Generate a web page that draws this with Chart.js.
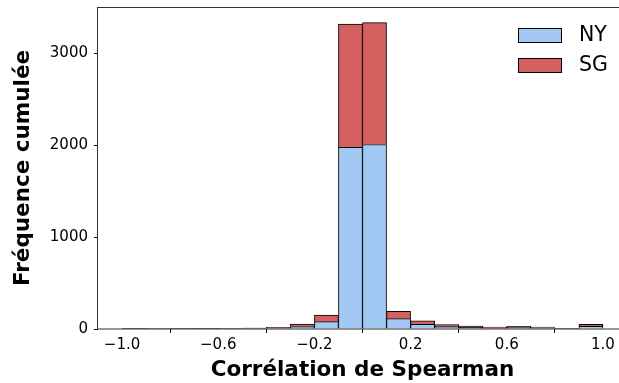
<!DOCTYPE html>
<html>
<head>
<meta charset="utf-8">
<script src="https://cdn.jsdelivr.net/npm/chart.js@4/dist/chart.umd.min.js"></script>
<style>
  html, body { margin: 0; padding: 0; background: #fff; overflow: hidden; }
  #wrap { width: 631px; height: 383px; }
</style>
</head>
<body>
<div id="wrap"><canvas id="hist" width="631" height="383"></canvas></div>
<script>
// histogram bins of width 0.1 on [-1, 1], given by their centres
const binCenters = [-0.95, -0.85, -0.75, -0.65, -0.55, -0.45, -0.35, -0.25, -0.15, -0.05,
                    0.05, 0.15, 0.25, 0.35, 0.45, 0.55, 0.65, 0.75, 0.85, 0.95];
const countsNY = [4, 2, 3, 4, 5, 8, 12, 26, 80, 1975, 2005, 112, 52, 25, 17, 12, 18, 14, 5, 30];
const countsSG = [2, 1, 1, 2, 2, 3, 6, 28, 72, 1340, 1325, 80, 36, 24, 14, 10, 10, 8, 3, 20];
const xTicks = [-1.0, -0.6, -0.2, 0.2, 0.6, 1.0];
const yTicks = [0, 1000, 2000, 3000];

const FONT = "'DejaVu Sans', sans-serif";

function pts(vals) {
  return binCenters.map((c, i) => ({ x: c, y: vals[i] }));
}

// matplotlib-like frame around the axes, on top of the bars
const frame = {
  id: 'frame',
  afterDatasetsDraw(chart) {
    const { ctx, chartArea: a } = chart;
    ctx.save();
    ctx.strokeStyle = '#333';
    ctx.lineWidth = 1;
    ctx.strokeRect(Math.round(a.left) - 0.5, Math.round(a.top) + 0.5,
                   Math.round(a.right - a.left) + 1, Math.round(a.bottom - a.top) - 0.5);
    ctx.restore();
  }
};

// legend in the upper right corner
const cornerLegend = {
  id: 'cornerLegend',
  afterDraw(chart) {
    const { ctx, chartArea: a } = chart;
    ctx.save();
    ctx.font = '20.5px ' + FONT;
    ctx.textBaseline = 'middle';
    chart.data.datasets.forEach((ds, i) => {
      const x = a.right - 109;
      const y = a.top + 21 + i * 30;
      ctx.fillStyle = ds.backgroundColor;
      ctx.fillRect(x, y, 44, 15);
      ctx.strokeStyle = '#000';
      ctx.lineWidth = 1;
      ctx.strokeRect(x + 0.5, y + 0.5, 43, 14);
      ctx.fillStyle = '#000';
      ctx.fillText(ds.label, x + 61, y + 8);
    });
    ctx.restore();
  }
};

new Chart(document.getElementById('hist'), {
  type: 'bar',
  data: {
    datasets: [
      { label: 'NY', data: pts(countsNY), backgroundColor: '#a1c9f4',
        borderColor: '#000', borderWidth: 1 },
      { label: 'SG', data: pts(countsSG), backgroundColor: '#d65f5f',
        borderColor: '#000', borderWidth: 1 }
    ]
  },
  options: {
    responsive: false,
    animation: false,
    events: [],
    barPercentage: 1,
    categoryPercentage: 1,
    layout: { padding: { top: 7, right: 4, left: 0, bottom: 0 } },
    plugins: { legend: { display: false }, tooltip: { enabled: false } },
    scales: {
      x: {
        type: 'linear',
        stacked: true,
        offset: false,
        min: -1.1,
        max: 1.1,
        afterBuildTicks: s => { s.ticks = xTicks.map(v => ({ value: v })); },
        afterFit: s => { s.height = 54; s.paddingLeft = 0; s.paddingRight = 0; },
        grid: { drawOnChartArea: false, drawTicks: true, tickLength: 4, tickColor: '#000' },
        border: { display: false },
        ticks: {
          color: '#000', padding: 3, maxRotation: 0, autoSkip: false,
          font: { family: FONT, size: 15 },
          callback: v => (v < 0 ? '\u2212' : '') + Math.abs(v).toFixed(1)
        },
        title: {
          display: true, text: 'Corrélation de Spearman', color: '#000',
          font: { family: FONT, size: 21.5, weight: 'bold' },
          padding: { top: 0, bottom: 0 }
        }
      },
      y: {
        stacked: true,
        min: 0,
        max: 3500,
        afterBuildTicks: s => { s.ticks = yTicks.map(v => ({ value: v })); },
        afterFit: s => { s.width = 98; s.paddingTop = 0; s.paddingBottom = 0; },
        grid: { drawOnChartArea: false, drawTicks: true, tickLength: 4, tickColor: '#000' },
        border: { display: false },
        ticks: {
          color: '#000', padding: 6,
          font: { family: FONT, size: 15 },
          callback: v => String(v)
        },
        title: {
          display: true, text: 'Fréquence cumulée', color: '#000',
          font: { family: FONT, size: 21.5, weight: 'bold' },
          padding: { top: 11, bottom: 0 }
        }
      }
    }
  },
  plugins: [frame, cornerLegend]
});
</script>
</body>
</html>
